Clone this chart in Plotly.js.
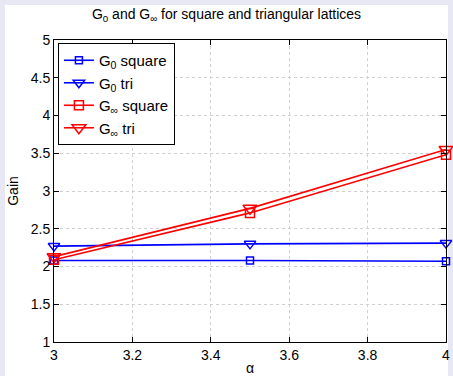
<!DOCTYPE html>
<html>
<head>
<meta charset="utf-8">
<script src="https://cdn.plot.ly/plotly-3.0.1.min.js"></script>
<style>
html,body{margin:0;padding:0;background:#E8E8F4;width:453px;height:376px;overflow:hidden;}
#chart{position:absolute;left:0;top:0;width:453px;height:376px;}
</style>
</head>
<body>
<div id="chart"></div>
<script>
const alpha = [3, 3.5, 4];
const g0Square = [2.08, 2.08, 2.07];
const g0Tri = [2.27, 2.30, 2.31];
const gInfSquare = [2.09, 2.71, 3.48];
const gInfTri = [2.13, 2.77, 3.55];
const seriesNames = ['G<sub>0</sub> square', 'G<sub>0</sub> tri', 'G<sub>∞</sub> square', 'G<sub>∞</sub> tri'];
const xTicks = [3, 3.2, 3.4, 3.6, 3.8, 4];
const yTicks = [1, 1.5, 2, 2.5, 3, 3.5, 4, 4.5, 5];

const blue = '#0000FF', red = '#FF0000';
function tr(y, name, color, symbol, size) {
  return {x: alpha, y: y, name: name, type: 'scatter', mode: 'lines+markers', cliponaxis: false,
    line: {color: color, width: 1.6},
    marker: {symbol: symbol, size: size, color: color, line: {color: color, width: 1.5}}};
}
const data = [
  tr(g0Square, seriesNames[0], blue, 'square-open', 7),
  tr(g0Tri, seriesNames[1], blue, 'triangle-down-open', 10),
  tr(gInfSquare, seriesNames[2], red, 'square-open', 9),
  tr(gInfTri, seriesNames[3], red, 'triangle-down-open', 12)
];
const font = {family: 'Liberation Sans, Arial, sans-serif', size: 14, color: '#000'};
const axisCommon = {
  showline: true, linecolor: '#000', linewidth: 1, mirror: 'ticks',
  ticks: 'inside', ticklen: 5, tickcolor: '#000',
  showgrid: true, gridcolor: '#d0d0d0', griddash: 'dot', gridwidth: 1,
  zeroline: false, tickfont: font, ticklabeloverflow: 'allow'
};
// plot area: x 54..446, y 40..342 of a 453x376 page
const PL = 54, PR = 446, PT = 40, PB = 342, W = 453, H = 376;
const pw = PR - PL, ph = PB - PT;
const layout = {
  width: W, height: H,
  margin: {l: PL, r: W - PR, t: PT, b: H - PB},
  paper_bgcolor: '#E8E8F4', plot_bgcolor: '#FFFFFF',
  font: font,
  showlegend: true,
  shapes: [{type: 'rect', xref: 'paper', yref: 'paper', layer: 'below',
    x0: (5 - PL) / pw, x1: (448 - PL) / pw, y0: (PB - H) / ph, y1: (PB - 5) / ph,
    fillcolor: '#FFFFFF', line: {width: 0}}],
  title: {text: 'G<sub>0</sub> and G<sub>∞</sub> for square and triangular lattices', font: {family: font.family, size: 14, color: '#000'}, x: 0.5, xanchor: 'center', y: 0.975, yanchor: 'top'},
  xaxis: Object.assign({}, axisCommon, {range: [3, 4], tickvals: xTicks, ticktext: xTicks.map(String),
    title: {text: 'α', font: font, standoff: 1}}),
  yaxis: Object.assign({}, axisCommon, {range: [1, 5], tickvals: yTicks, ticktext: yTicks.map(String),
    title: {text: 'Gain', font: font, standoff: 8}}),
  legend: {x: 0.01, y: 0.99, xanchor: 'left', yanchor: 'top', bgcolor: '#FFFFFF', bordercolor: '#000', borderwidth: 1,
    font: {family: font.family, size: 15, color: '#000'}, itemwidth: 30, tracegroupgap: 0}
};
Plotly.newPlot('chart', data, layout, {staticPlot: true, displayModeBar: false});
</script>
</body>
</html>
